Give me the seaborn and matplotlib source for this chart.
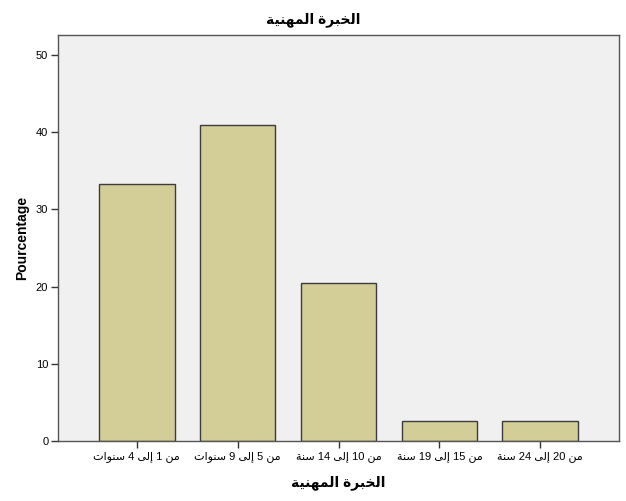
import matplotlib
matplotlib.use("Agg")
import matplotlib.pyplot as plt
import seaborn as sns
import pandas as pd

# données
titre = "الخبرة المهنية"
categories = [
    "من 1 إلى 4 سنوات",
    "من 5 إلى 9 سنوات",
    "من 10 إلى 14 سنة",
    "من 15 إلى 19 سنة",
    "من 20 إلى 24 سنة",
]
pourcentages = [33.3, 41.0, 20.5, 2.6, 2.6]
y_ticks = [0, 10, 20, 30, 40, 50]

# formes contextuelles arabes : (isolée, finale, initiale, médiane)
FORMES = {
    "ا": ("\uFE8D", "\uFE8E", None, None),
    "إ": ("\uFE87", "\uFE88", None, None),
    "ب": ("\uFE8F", "\uFE90", "\uFE91", "\uFE92"),
    "ت": ("\uFE95", "\uFE96", "\uFE97", "\uFE98"),
    "ة": ("\uFE93", "\uFE94", None, None),
    "خ": ("\uFEA5", "\uFEA6", "\uFEA7", "\uFEA8"),
    "ر": ("\uFEAD", "\uFEAE", None, None),
    "س": ("\uFEB1", "\uFEB2", "\uFEB3", "\uFEB4"),
    "ل": ("\uFEDD", "\uFEDE", "\uFEDF", "\uFEE0"),
    "م": ("\uFEE1", "\uFEE2", "\uFEE3", "\uFEE4"),
    "ن": ("\uFEE5", "\uFEE6", "\uFEE7", "\uFEE8"),
    "ه": ("\uFEE9", "\uFEEA", "\uFEEB", "\uFEEC"),
    "و": ("\uFEED", "\uFEEE", None, None),
    "ى": ("\uFEEF", "\uFEF0", None, None),
    "ي": ("\uFEF1", "\uFEF2", "\uFEF3", "\uFEF4"),
}


def formeMot(mot):
    if not any(c in FORMES for c in mot):
        return mot
    res = []
    for i, c in enumerate(mot):
        f = FORMES[c]
        avant = i > 0 and FORMES[mot[i - 1]][2] is not None
        apres = i < len(mot) - 1 and f[2] is not None
        if avant and apres:
            res.append(f[3])
        elif avant:
            res.append(f[1])
        elif apres:
            res.append(f[2])
        else:
            res.append(f[0])
    return "".join(reversed(res))


def affichage(texte):
    # ordre visuel de droite à gauche, chiffres laissés tels quels
    return " ".join(formeMot(m) for m in reversed(texte.split(" ")))


df = pd.DataFrame({"cat": [affichage(c) for c in categories], "pct": pourcentages})

sns.set_theme(style="white")
plt.rcParams["font.family"] = ["Liberation Sans", "DejaVu Sans"]
plt.rcParams["text.color"] = "black"
plt.rcParams["axes.labelcolor"] = "black"

fig = plt.figure(figsize=(6.26, 5.01), dpi=100)
ax = fig.add_axes([58 / 626, 1 - 441 / 501, 561 / 626, 406 / 501])
ax.set_facecolor("#F0F0F0")

sns.barplot(data=df, x="cat", y="pct", color="#D3CE97", width=0.75,
            edgecolor="#3C3C3C", linewidth=1.0, saturation=1, ax=ax)

ax.set_xlim(-0.78, 4.78)
ax.set_ylim(0, 52.6)
ax.set_yticks(y_ticks)
ax.tick_params(axis="both", direction="out", length=5, width=1, color="#333333",
               labelsize=8, labelcolor="black", pad=2, left=True, bottom=True)
for s in ax.spines.values():
    s.set_color("#555555")
    s.set_linewidth(1.0)

ax.set_xlabel(affichage(titre), fontsize=10, fontweight="bold", labelpad=10)
ax.set_ylabel("Pourcentage", fontsize=10, fontweight="bold")
ax.yaxis.set_label_coords(-(58 - 29) / 561, 0.5)
fig.text(313 / 626, 1 - 20 / 501, affichage(titre), ha="center", va="center",
         fontsize=10, fontweight="bold")

fig.savefig("out.png", dpi=100, facecolor="white")
